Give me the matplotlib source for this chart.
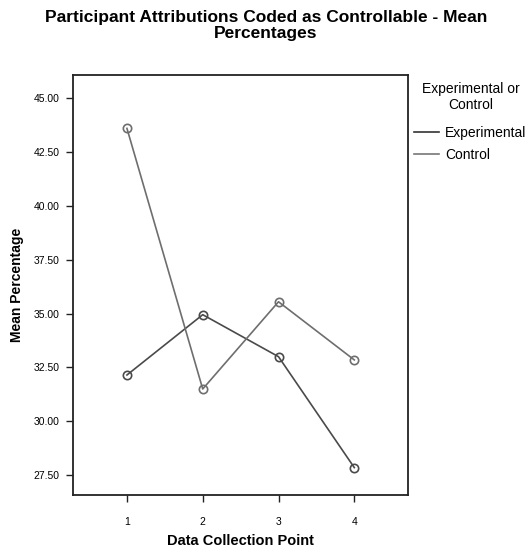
import matplotlib
matplotlib.use("Agg")
import matplotlib.pyplot as plt
from matplotlib.lines import Line2D

points = [1, 2, 3, 4]
experimental = [32.15, 34.95, 33.0, 27.85]
control = [43.6, 31.5, 35.55, 32.85]
yticks = [27.5, 30.0, 32.5, 35.0, 37.5, 40.0, 42.5, 45.0]

plt.rcParams['font.family'] = ['Liberation Sans', 'DejaVu Sans']

fig = plt.figure(figsize=(5.30, 5.57), dpi=100)
ax = fig.add_axes([0.138, 0.111, 0.632, 0.754])

exp_color = '#4a4a4a'
ctl_color = '#6e6e6e'
ax.plot(points, experimental, color=exp_color, lw=1.2, marker='o', ms=6,
        mfc='none', mec=exp_color, mew=1.2)
ax.plot(points, control, color=ctl_color, lw=1.2, marker='o', ms=6,
        mfc='none', mec=ctl_color, mew=1.2)

ax.set_xlim(0.29, 4.71)
ax.set_ylim(26.57, 46.07)
ax.set_xticks(points)
ax.set_xticklabels([str(p) for p in points], fontsize=7.5)
ax.set_yticks(yticks)
ax.set_yticklabels([f"{v:.2f}" for v in yticks], fontsize=7.5)
ax.tick_params(axis='x', direction='out', length=5, width=1, color='#222222', pad=11)
ax.tick_params(axis='y', direction='out', length=5, width=1, color='#222222', pad=5)
for s in ax.spines.values():
    s.set_linewidth(1.3)
    s.set_color('#222222')

ax.set_xlabel('Data Collection Point', fontsize=10.5, fontweight='bold', labelpad=5)
ax.set_ylabel('Mean Percentage', fontsize=10, fontweight='bold', labelpad=7)

fig.text(0.502, 0.982, 'Participant Attributions Coded as Controllable - Mean\nPercentages',
         ha='center', va='top', fontsize=12.5, fontweight='bold', linespacing=1.05)

handles = [Line2D([0], [0], color='#333333', lw=1.2),
           Line2D([0], [0], color='#777777', lw=1.2)]
leg = fig.legend(handles, ['Experimental', 'Control'], title='Experimental or\nControl',
                 loc='upper left', bbox_to_anchor=(0.782, 0.853), frameon=False,
                 fontsize=10, title_fontsize=10, handlelength=1.8, handletextpad=0.4,
                 borderaxespad=0, labelspacing=0.55, borderpad=0)
leg.get_title().set_ha('center')
leg._legend_box.sep = 10

fig.savefig('out.png', dpi=100, facecolor='white')
